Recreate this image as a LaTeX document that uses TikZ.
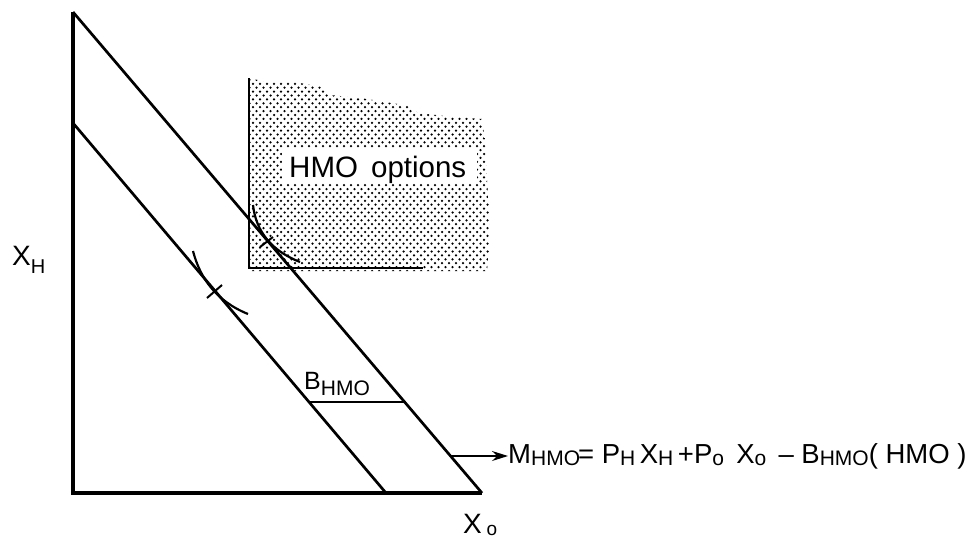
\documentclass[tikz,border=0pt]{standalone}
\usepackage{fontspec}
\setmainfont{Liberation Sans}
\usetikzlibrary{arrows.meta}
\newcommand\lowsub[3]{\raisebox{-#1}{\fontsize{#2}{#2}\selectfont #3}}
\begin{document}
\begin{tikzpicture}[x=1pt,y=-1pt,
  axisline/.style={line width=3.2pt},
  budgetline/.style={line width=2.7pt},
  hmoaxis/.style={line width=2.3pt},
  icurve/.style={line width=2.2pt},
  tickmark/.style={line width=2pt},
  lbl/.style={inner sep=0pt, anchor=base west, font=\fontsize{28}{28}\selectfont},
  dotfill/.style={fill=black}]
\useasboundingbox (0,0) rectangle (973,538);
% coordinates
\coordinate (O) at (73,493);
\coordinate (T) at (73,12);
\coordinate (A) at (482,493);
\coordinate (I1) at (73,123);
\coordinate (I2) at (386,493);
\coordinate (Hv) at (249,78);
\coordinate (Ho) at (249,268);
\coordinate (Hh) at (423,268);
% shaded HMO options region
\begin{scope}
\clip (249,78) -- (262,81) -- (300,83) -- (322,87) -- (330,95) -- (360,98) -- (392,103) -- (410,106) -- (418,113) -- (445,116) -- (482,119) -- (485,140) -- (487,180) -- (490,220) -- (489,250) -- (487,271) -- (249,271) -- cycle;
\foreach \j in {0,...,50} {
  \foreach \i in {0,...,36} {
    \fill[dotfill] ({246+7*\i+3.5*mod(\j,2)},{76+3.9*\j}) circle (1.25);
  }
}
\end{scope}
\fill[white] (282,148) rectangle (477,183);
\node[lbl, font=\fontsize{29.5}{29.5}\selectfont] (opt) at (289,177) {HMO\, options};
% axes
\draw[axisline] (T) -- (O) -- (A);
% budget lines
\draw[budgetline] (T) -- (A);
\draw[budgetline] (I1) -- (I2);
% HMO axes
\draw[hmoaxis] (Hv) -- (Ho) -- (Hh);
% indifference curves
\draw[icurve] (193,251) .. controls (200,278) and (216,301) .. (248,314);
\draw[tickmark] (207,298) -- (222,285);
\draw[icurve] (253,205) .. controls (256,232) and (272,251) .. (300,262);
\draw[tickmark] (260,247) -- (273,237);
% B_HMO segment
\coordinate (Bl) at (309,402);
\coordinate (Br) at (405,402);
\draw[hmoaxis] (Bl) -- (Br);
% labels
\node[lbl] (xh) at (12,265) {X\lowsub{8pt}{20}{H}};
\node[lbl] (xo) at (463,533) {X\,\lowsub{2pt}{19}{o}};
\node[lbl, font=\fontsize{25}{25}\selectfont] (bh) at (304,389) {B\lowsub{6pt}{21}{HMO}};
\node[lbl, font=\fontsize{27.5}{27.5}\selectfont] (eq) at (508,463) {M\lowsub{2pt}{21}{HMO}\kern-2pt= P\lowsub{2pt}{21}{H}\,X\lowsub{2pt}{21}{H}\,+P\lowsub{2pt}{21}{o}\, X\lowsub{2pt}{21}{o}\, -- B\lowsub{2pt}{21}{HMO}( HMO )};
% arrow
\coordinate (As) at (450.6,456);
\draw[line width=1.3pt, -{Stealth[length=16pt,width=10pt]}] (As) -- (eq.west |- As);
\end{tikzpicture}
\end{document}
